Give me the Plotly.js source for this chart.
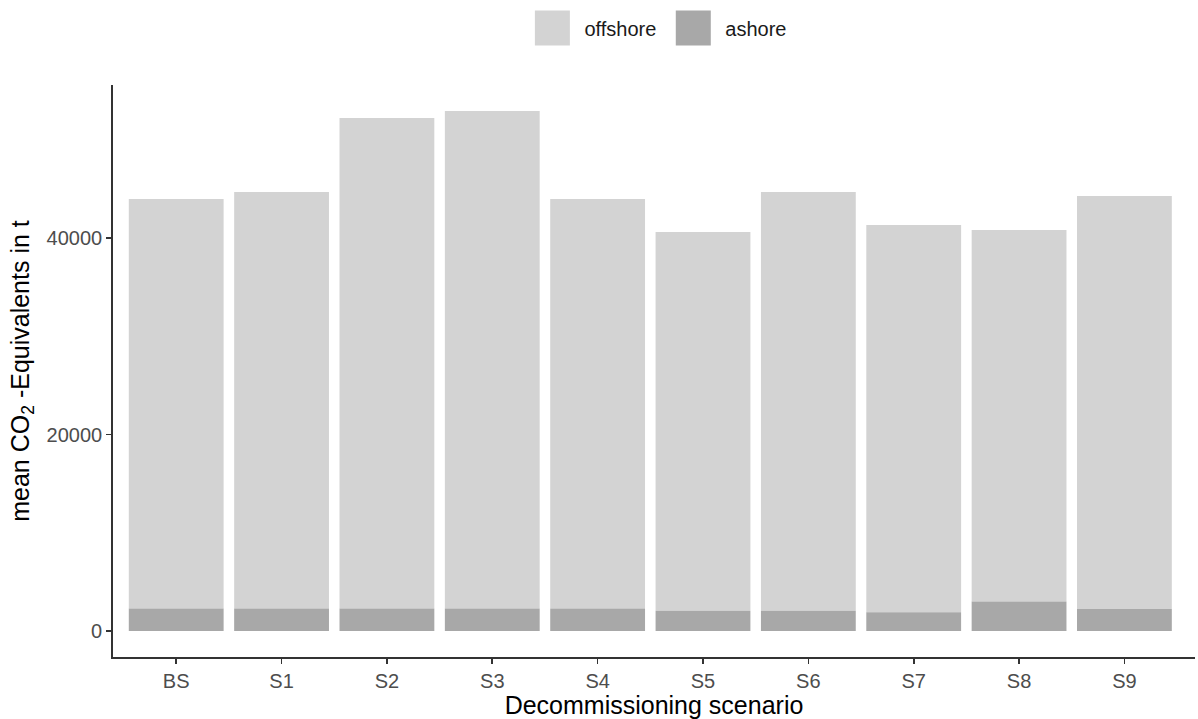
<!DOCTYPE html>
<html>
<head>
<meta charset="utf-8">
<script src="https://cdn.plot.ly/plotly-3.0.1.min.js"></script>
<style>html,body{margin:0;padding:0;background:#fff;}#chart{width:1198px;height:719px;}</style>
</head>
<body>
<div id="chart"></div>
<script>
const scenarios = ["BS","S1","S2","S3","S4","S5","S6","S7","S8","S9"];
const ashore   = [2300, 2300, 2300, 2300, 2300, 2070, 2070, 1900, 3000, 2250];
const totals   = [43970, 44680, 52210, 52930, 43970, 40610, 44680, 41320, 40810, 44270];
const offshore = totals.map((t, i) => t - ashore[i]);
const yTicks = [0, 20000, 40000];
const yTickText = ["0", "20000", "40000"];

const font = "Liberation Sans, Arial, sans-serif";
const data = [
  {type: "bar", name: "offshore", x: scenarios, y: offshore, base: ashore,
   marker: {color: "#d3d3d3"}, width: 0.9},
  {type: "bar", name: "ashore", x: scenarios, y: ashore,
   marker: {color: "#a8a8a8"}, width: 0.9}
];
const layout = {
  width: 1198, height: 719,
  margin: {l: 113, r: 3, t: 85, b: 62},
  paper_bgcolor: "#fff", plot_bgcolor: "#fff",
  font: {family: font, color: "#000"},
  barmode: "overlay",
  showlegend: true,
  legend: {orientation: "h", x: 0.5022, xanchor: "center", y: 1.0997, yanchor: "middle",
           itemwidth: 54, font: {size: 20, color: "#1a1a1a", family: font}, traceorder: "normal"},
  xaxis: {
    type: "category", range: [-0.6, 9.67],
    showline: true, linecolor: "#333", linewidth: 1.8,
    ticks: "outside", ticklen: 5, tickcolor: "#333", tickwidth: 1.6,
    tickfont: {size: 20, color: "#4d4d4d", family: font},
    showgrid: false, zeroline: false,
    title: {text: "Decommissioning scenario", font: {size: 25, color: "#000", family: font}, standoff: 2}
  },
  yaxis: {
    range: [-2646, 55577],
    tickvals: yTicks, ticktext: yTickText,
    showline: true, linecolor: "#333", linewidth: 1.8,
    ticks: "outside", ticklen: 5, tickcolor: "#333", tickwidth: 1.6,
    tickfont: {size: 20, color: "#4d4d4d", family: font},
    showgrid: false, zeroline: false,
    title: {text: "mean CO<sub>2</sub> -Equivalents in t", font: {size: 25, color: "#000", family: font}, standoff: 10}
  }
};
Plotly.newPlot("chart", data, layout, {displayModeBar: false, staticPlot: true}).then(gd => {
  gd.querySelectorAll(".legend .legendpoints path").forEach(p => {
    p.setAttribute("d", "M17.5,17.5H-17.5V-17.5H17.5Z");
  });
});
</script>
</body>
</html>
